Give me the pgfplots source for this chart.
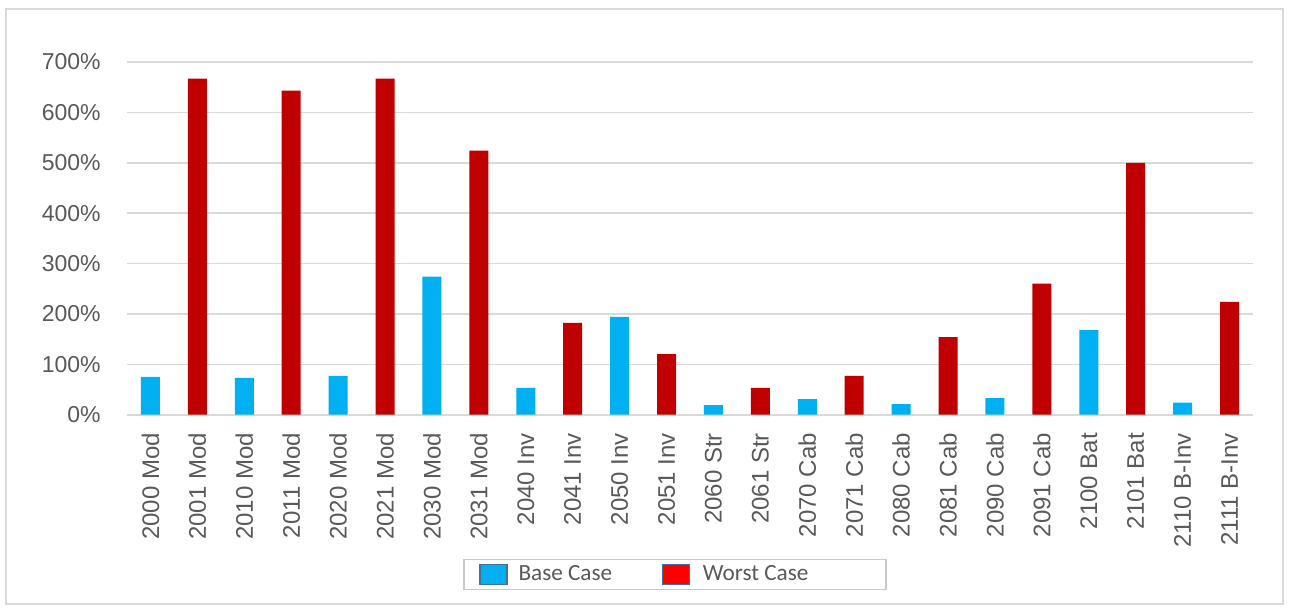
\documentclass[border=0pt]{standalone}
\usepackage{pgfplots}
\pgfplotsset{compat=1.18}
\usepackage{fontspec}
\setmainfont{Liberation Sans}
\newfontfamily\legendfont{Carlito}

\definecolor{baseblue}{HTML}{00B0F0}
\definecolor{worstred}{HTML}{C00000}
\definecolor{legred}{HTML}{FF0000}
\definecolor{legedge}{HTML}{41719C}
\definecolor{gridgray}{HTML}{D9D9D9}
\definecolor{textgray}{HTML}{595959}
\definecolor{boxgray}{HTML}{C8C8C8}

\pgfplotsset{
  boxlegend/.style={legend image code/.code={\draw[##1] (0pt,-5pt) rectangle (13.5pt,5pt);}},
}

\begin{document}
\begin{tikzpicture}
\useasboundingbox (-63.5pt,-97.65pt) rectangle (581pt,207.35pt);
\draw[gridgray, line width=0.8pt] (-60.5pt,-94.65pt) rectangle (578pt,202.85pt);
\begin{axis}[
    at={(0pt,0pt)}, anchor=south west,
    scale only axis,
    width=563pt, height=176.35pt,
    xmin=-0.5, xmax=23.5,
    ymin=0, ymax=700,
    axis line style={draw=none},
    tick style={draw=none},
    major tick length=0pt,
    ymajorgrids,
    grid style={gridgray, line width=0.8pt},
    extra y ticks={0},
    extra y tick labels={},
    extra y tick style={grid style={gridgray, line width=1.1pt}},
    ytick={0,100,...,700},
    yticklabels={0\%,100\%,200\%,300\%,400\%,500\%,600\%,700\%},
    xtick={0,...,23},
    xticklabels={2000 Mod,2001 Mod,2010 Mod,2011 Mod,2020 Mod,2021 Mod,2030 Mod,2031 Mod,
      2040 Inv,2041 Inv,2050 Inv,2051 Inv,2060 Str,2061 Str,2070 Cab,2071 Cab,
      2080 Cab,2081 Cab,2090 Cab,2091 Cab,2100 Bat,2101 Bat,2110 B-Inv,2111 B-Inv},
    /pgf/number format/assume math mode=true,
    yticklabel style={font=\fontsize{11.5}{13}\selectfont, text=textgray,
      anchor=east, inner sep=0pt, xshift=-13pt},
    xticklabel style={yshift=-9pt, rotate=90, anchor=east, inner sep=0pt,
      font=\fontsize{12}{14}\selectfont, text=textgray},
    legend columns=2,
    legend cell align=left,
    legend style={at={(0.4867,-0.4532)}, anchor=center,
      draw=boxgray, line width=0.7pt, inner xsep=7.5pt, inner ysep=2pt,
      font=\legendfont\fontsize{11.6}{14}\selectfont, text=textgray,
      nodes={inner sep=0pt, text height=8.5pt, text depth=2.5pt},
      /tikz/column 1/.style={column sep=5.5pt},
      /tikz/column 2/.style={column sep=3.5pt},
      /tikz/column 3/.style={column sep=6.5pt}},
]
\addlegendimage{boxlegend, fill=baseblue, draw=legedge, line width=0.7pt}
\addlegendimage{boxlegend, fill=legred, draw=legedge, line width=0.7pt}

% Base Case
\addplot[ybar, bar width=0.405, fill=baseblue, draw=none, forget plot] coordinates {
  (0,75) (2,73) (4,77) (6,274) (8,53) (10,194)
  (12,19) (14,31) (16,21) (18,33) (20,168) (22,24)
};
% Worst Case
\addplot[ybar, bar width=0.405, fill=worstred, draw=none, forget plot] coordinates {
  (1,667) (3,643) (5,667) (7,524) (9,182) (11,120)
  (13,53) (15,77) (17,154) (19,260) (21,500) (23,224)
};
\legend{\makebox[68pt][l]{Base Case},\makebox[84pt][l]{Worst Case}}
\end{axis}
\end{tikzpicture}
\end{document}
